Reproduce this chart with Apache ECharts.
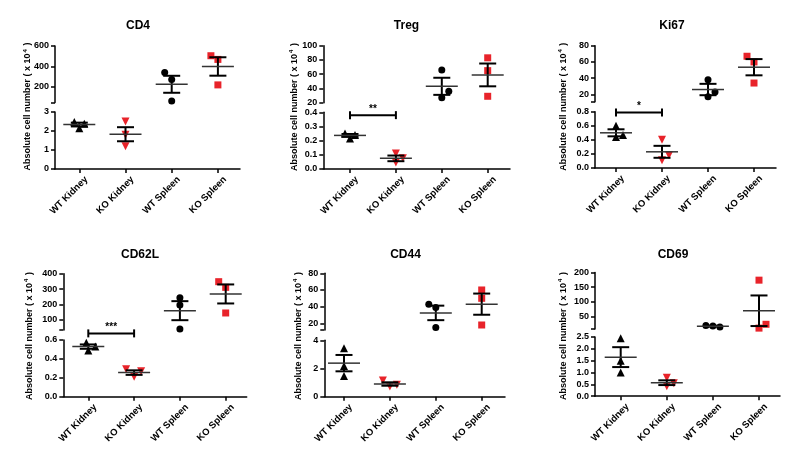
<!DOCTYPE html>
<html><head><meta charset="utf-8">
<script src="https://cdn.jsdelivr.net/npm/echarts@6/dist/echarts.min.js"></script>
<style>html,body{margin:0;padding:0;background:#fff}#c{width:800px;height:462px}</style>
</head><body><div id="c"></div>
<script>
// ---------- DATA ----------
const categories = ['WT Kidney', 'KO Kidney', 'WT Spleen', 'KO Spleen'];
const panelTitles = ['CD4', 'Treg', 'Ki67', 'CD62L', 'CD44', 'CD69'];

// individual points per group (WT Kidney, KO Kidney, WT Spleen, KO Spleen)
const cd4Points   = [[2.47, 2.38, 2.15], [2.5, 1.8, 1.2], [341, 273, 63], [505, 469, 220]];
const tregPoints  = [[0.25, 0.24, 0.215], [0.11, 0.075, 0.045], [66, 36, 27], [83, 65, 29]];
const ki67Points  = [[0.6, 0.47, 0.44], [0.4, 0.18, 0.11], [38, 23, 17], [67, 60, 34]];
const cd62lPoints = [[0.57, 0.53, 0.49], [0.29, 0.27, 0.21], [243, 196, 39], [348, 311, 144]];
const cd44Points  = [[3.43, 2.18, 1.47], [1.15, 0.85, 0.72], [43, 39, 15], [60, 50, 18]];
const cd69Points  = [[2.45, 1.5, 1.0], [0.78, 0.55, 0.42], [20, 18, 15], [174, 24, 11]];

// group means and SEM
const cd4Mean   = [2.34, 1.83, 226, 400];   const cd4Sem   = [0.1, 0.37, 83, 90];
const tregMean  = [0.237, 0.075, 43, 59];   const tregSem  = [0.01, 0.02, 12, 16];
const ki67Mean  = [0.50, 0.23, 26, 53.5];   const ki67Sem  = [0.05, 0.085, 7, 10];
const cd62lMean = [0.53, 0.255, 159, 268];  const cd62lSem = [0.023, 0.024, 62, 62];
const cd44Mean  = [2.38, 0.9, 32.5, 43];    const cd44Sem  = [0.58, 0.12, 8.7, 12.7];
const cd69Mean  = [1.65, 0.57, 17.7, 70];   const cd69Sem  = [0.42, 0.1, 1.5, 52];

// axis tick labels (upper segment / lower segment) and upper segment start
const cd4UpperTicks   = [200, 400, 600];        const cd4LowerTicks   = [0, 1, 2, 3];
const tregUpperTicks  = [20, 40, 60, 80, 100];  const tregLowerTicks  = [0, 0.1, 0.2, 0.3, 0.4];
const ki67UpperTicks  = [20, 40, 60, 80];       const ki67LowerTicks  = [0, 0.2, 0.4, 0.6, 0.8];
const cd62lUpperTicks = [100, 200, 300, 400];   const cd62lLowerTicks = [0, 0.2, 0.4, 0.6];
const cd44UpperTicks  = [20, 40, 60, 80];       const cd44LowerTicks  = [0, 2, 4];
const cd69UpperTicks  = [50, 100, 150, 200];    const cd69LowerTicks  = [0, 0.5, 1, 1.5, 2, 2.5];
const upperStart = [48, 20, 11, 33, 12, 8];
const lowerDecimals = [0, 1, 1, 1, 0, 1];

// significance bars: [fromGroup, toGroup, yValue, label]
const tregSig  = [0, 1, 0.38, '**'];
const ki67Sig  = [0, 1, 0.79, '*'];
const cd62lSig = [0, 1, 0.67, '***'];

// ---------- STYLE / LAYOUT ----------
const FONT = '"Liberation Sans", Arial, sans-serif';
const RED = '#e8232a';
const LABEL_DX = 7;
const layout = [
  {t: [138, 26],   yn: [28, 106.5],  ax: 55,    c0: 79.3,  sp: 46.2, end: 240,   uT: 46,    uB: 102.5, lT: 112,   lB: 169},
  {t: [406.5, 26], yn: [294.3, 107], ax: 323.3, c0: 350,   sp: 45.9, end: 510,   uT: 45.7,  uB: 102.7, lT: 112.3, lB: 169},
  {t: [672, 26],   yn: [563.5, 106.7], ax: 595, c0: 616,   sp: 46,   end: 776,   uT: 45.7,  uB: 101.7, lT: 111.7, lB: 168},
  {t: [140, 255],  yn: [29.3, 336],  ax: 63.3,  c0: 88.3,  sp: 45.8, end: 246.7, uT: 273.7, uB: 330,   lT: 340,   lB: 396.7},
  {t: [405.5, 255], yn: [298.3, 336], ax: 324.3, c0: 344,  sp: 45.9, end: 505,   uT: 273.3, uB: 330,   lT: 340.3, lB: 396.7},
  {t: [673, 255],  yn: [563.5, 336], ax: 595,   c0: 620.7, sp: 46.1, end: 780,   uT: 272.5, uB: 329,   lT: 337,   lB: 396.2}
];
const jitter = [
  [[-5, 5, 0], [0, 0, 0], [-7, 0, 0], [-7, 0, 0]],
  [[-5, 5, 0], [0, 7, 0], [0, 7, 0], [0, 0, 0]],
  [[0, 7, 0], [0, 7, 0], [0, 7, 0], [-7, 0, 0]],
  [[-2, 7, 0], [-8, 7, 0], [0, 0, 0], [-7, 0, 0]],
  [[0, 0, 0], [-7, 7, 0], [-7, 0, 0], [0, 0, 0]],
  [[0, 0, 0], [0, 7, 0], [-7, 0, 7], [0, 7, 0]]
];
const groupStyle = [
  {symbol: 'triangle', size: 8, rotate: 0, color: '#000'},
  {symbol: 'triangle', size: 8, rotate: 180, color: RED},
  {symbol: 'circle', size: 7, rotate: 0, color: '#000'},
  {symbol: 'rect', size: 7, rotate: 0, color: RED}
];

const panels = [
  {pts: cd4Points, mean: cd4Mean, sem: cd4Sem, up: cd4UpperTicks, low: cd4LowerTicks, sig: null},
  {pts: tregPoints, mean: tregMean, sem: tregSem, up: tregUpperTicks, low: tregLowerTicks, sig: tregSig},
  {pts: ki67Points, mean: ki67Mean, sem: ki67Sem, up: ki67UpperTicks, low: ki67LowerTicks, sig: ki67Sig},
  {pts: cd62lPoints, mean: cd62lMean, sem: cd62lSem, up: cd62lUpperTicks, low: cd62lLowerTicks, sig: cd62lSig},
  {pts: cd44Points, mean: cd44Mean, sem: cd44Sem, up: cd44UpperTicks, low: cd44LowerTicks, sig: null},
  {pts: cd69Points, mean: cd69Mean, sem: cd69Sem, up: cd69UpperTicks, low: cd69LowerTicks, sig: null}
];

function renderMeanErr(params, api) {
  const x = api.value(0), m = api.value(1), e = api.value(2);
  const c = api.coord([x, m]);
  const hi = api.coord([x, m + e]);
  const lo = api.coord([x, m - e]);
  const cap = 8.5, half = 16;
  return {type: 'group', children: [
    {type: 'line', shape: {x1: c[0], y1: hi[1], x2: c[0], y2: lo[1]}, style: {stroke: '#000', lineWidth: 2}},
    {type: 'line', shape: {x1: c[0] - cap, y1: hi[1], x2: c[0] + cap, y2: hi[1]}, style: {stroke: '#000', lineWidth: 2}},
    {type: 'line', shape: {x1: c[0] - cap, y1: lo[1], x2: c[0] + cap, y2: lo[1]}, style: {stroke: '#000', lineWidth: 2}},
    {type: 'line', shape: {x1: c[0] - half, y1: c[1], x2: c[0] + half, y2: c[1]}, style: {stroke: '#333', lineWidth: 1.5}}
  ]};
}
const sigLabels = {};
function renderSig(params, api) {
  const a = api.coord([api.value(0), api.value(2)]);
  const b = api.coord([api.value(1), api.value(2)]);
  const label = sigLabels[params.seriesIndex] || '';
  return {type: 'group', children: [
    {type: 'line', shape: {x1: a[0], y1: a[1], x2: b[0], y2: b[1]}, style: {stroke: '#000', lineWidth: 2}},
    {type: 'line', shape: {x1: a[0], y1: a[1] - 4, x2: a[0], y2: a[1] + 4}, style: {stroke: '#000', lineWidth: 2}},
    {type: 'line', shape: {x1: b[0], y1: b[1] - 4, x2: b[0], y2: b[1] + 4}, style: {stroke: '#000', lineWidth: 2}},
    {type: 'text', x: (a[0] + b[0]) / 2, y: a[1] - 1, style: {text: label, align: 'center', verticalAlign: 'bottom',
      font: 'bold 10px ' + FONT, fill: '#000'}}
  ]};
}

const option = {animation: false, backgroundColor: '#fff', grid: [], xAxis: [], yAxis: [], series: [], graphic: []};
const labelAxes = [];
const axisLineStyle = {color: '#000', width: 1.5};
const labelBase = {fontSize: 9, fontWeight: 'bold', color: '#000', fontFamily: FONT};

panels.forEach((p, i) => {
  const L = layout[i];
  const xmin = (L.ax - L.c0) / L.sp, xmax = (L.end - L.c0) / L.sp;
  [0, 1].forEach(s => {
    const gi = option.grid.length;
    const top = s === 0 ? L.uT : L.lT, bot = s === 0 ? L.uB : L.lB;
    option.grid.push({left: L.ax, top: top, width: L.end - L.ax, height: bot - top, containLabel: false, outerBoundsMode: 'none'});
    option.xAxis.push({
      type: 'value', gridIndex: gi, min: xmin, max: xmax, show: s === 1, position: 'bottom',
      axisLine: {show: true, onZero: false, lineStyle: axisLineStyle},
      axisTick: {show: true, customValues: [0, 1, 2, 3], length: 4, lineStyle: axisLineStyle},
      axisLabel: {show: false},
      splitLine: {show: false}
    });
    if (s === 1) {
      const shift = LABEL_DX / L.sp;
      labelAxes.push({
        type: 'value', gridIndex: gi, min: xmin - shift, max: xmax - shift, position: 'bottom',
        axisLine: {show: false, onZero: false}, axisTick: {show: false},
        axisLabel: Object.assign({customValues: [0, 1, 2, 3], formatter: v => categories[Math.round(v)], rotate: 45, margin: 9}, labelBase, {fontSize: 9.5}),
        splitLine: {show: false}
      });
    }
    const ticks = s === 0 ? p.up : p.low;
    const mn = s === 0 ? upperStart[i] : 0;
    const mx = ticks[ticks.length - 1];
    const dec = s === 0 ? 0 : lowerDecimals[i];
    option.yAxis.push({
      type: 'value', gridIndex: gi, min: mn, max: mx,
      axisLine: {show: true, onZero: false, lineStyle: axisLineStyle},
      axisTick: {show: true, customValues: s === 0 ? [mn].concat(ticks) : ticks, length: 4, lineStyle: axisLineStyle},
      axisLabel: Object.assign({customValues: ticks, formatter: v => Number(v).toFixed(dec), margin: 6}, labelBase),
      splitLine: {show: false}
    });
  });
  for (let g = 0; g < 4; g++) {
    const gi = 2 * i + (g < 2 ? 1 : 0);
    const st = groupStyle[g];
    option.series.push({
      type: 'scatter', xAxisIndex: gi, yAxisIndex: gi, clip: false, silent: true,
      symbol: st.symbol, symbolSize: st.size, symbolRotate: st.rotate,
      itemStyle: {color: st.color, opacity: 1},
      data: p.pts[g].map((v, k) => ({value: [g, v], symbolOffset: [jitter[i][g][k], 0]})),
      z: 2
    });
    option.series.push({
      type: 'custom', xAxisIndex: gi, yAxisIndex: gi, clip: false, silent: true,
      renderItem: renderMeanErr, data: [[g, p.mean[g], p.sem[g]]], z: 3
    });
  }
  if (p.sig) {
    const gi = 2 * i + 1;
    sigLabels[option.series.length] = p.sig[3];
    option.series.push({
      type: 'custom', xAxisIndex: gi, yAxisIndex: gi, clip: false, silent: true,
      renderItem: renderSig, data: [[p.sig[0], p.sig[1], p.sig[2]]], z: 3
    });
  }
  option.graphic.push({type: 'text', x: L.t[0], y: L.t[1], silent: true,
    style: {text: panelTitles[i], align: 'center', verticalAlign: 'middle', font: 'bold 12px ' + FONT, fill: '#000'}});
  option.graphic.push({type: 'text', x: L.yn[0], y: L.yn[1], rotation: Math.PI / 2, silent: true,
    style: {
      text: '{a|Absolute cell number ( x 10}{s|4}{a| )}', align: 'center', verticalAlign: 'middle',
      rich: {
        a: {fontSize: 9, fontWeight: 'bold', fontFamily: FONT, fill: '#000', lineHeight: 12},
        s: {fontSize: 6, fontWeight: 'bold', fontFamily: FONT, fill: '#000', verticalAlign: 'top', padding: [0, 1, 0, 1], lineHeight: 12}
      }
    }});
});
option.xAxis = option.xAxis.concat(labelAxes);

const chart = echarts.init(document.getElementById('c'), null, {renderer: 'canvas'});
chart.setOption(option);
</script>
</body></html>
